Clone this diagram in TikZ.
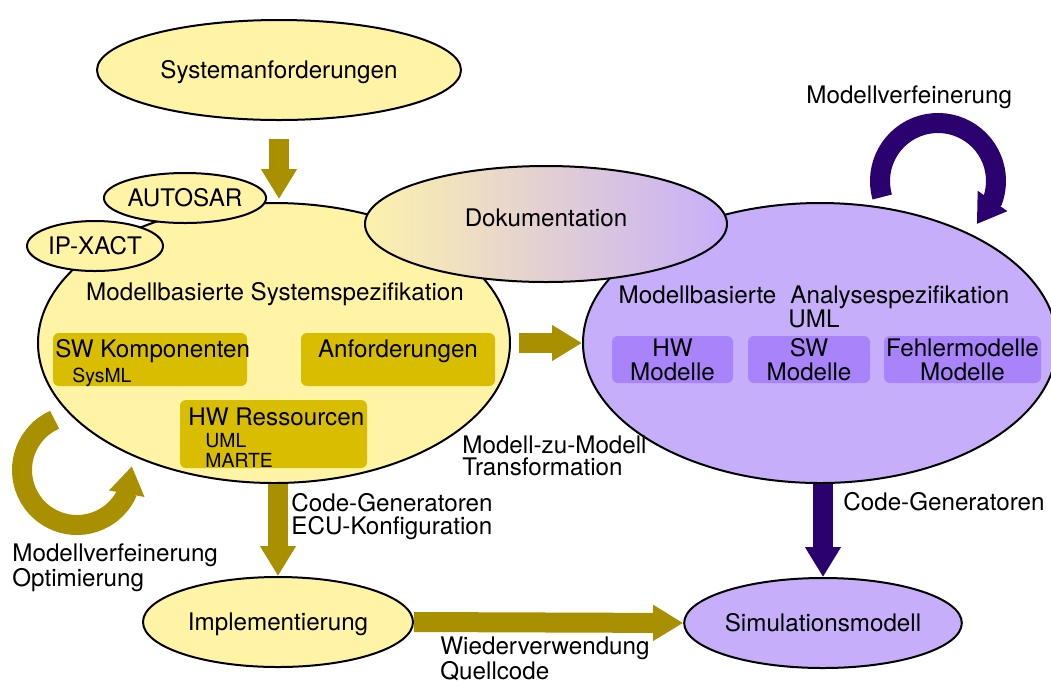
\documentclass[tikz,border=0pt]{standalone}
\usepackage{fontspec}
\setmainfont{TeX Gyre Heros}
\usetikzlibrary{shapes.geometric,arrows.meta,bending,calc}

\definecolor{paleyellow}{HTML}{FFF3A6}
\definecolor{goldbox}{HTML}{D9BD00}
\definecolor{arrowolive}{HTML}{A89000}
\definecolor{palelav}{HTML}{C7AEFA}
\definecolor{lavbox}{HTML}{A983F9}
\definecolor{darkviolet}{HTML}{2B006F}
\definecolor{docmid}{HTML}{E3CDCC}
\definecolor{docleft}{HTML}{FDF1AC}

\tikzset{
  ell/.style={ellipse, draw=black, line width=1pt, inner sep=0pt,
              text height=8.5pt, text depth=0pt},
  sysell/.style={ell, fill=paleyellow},
  anaell/.style={ell, fill=palelav},
  gbox/.style={fill=goldbox, rounded corners=3pt, inner sep=0pt},
  pbox/.style={fill=lavbox, rounded corners=3pt, inner sep=0pt, align=center},
  txt/.style={inner sep=0pt},
  small/.style={inner sep=0pt, font=\fontsize{9.7}{10}\selectfont},
  label/.style={inner sep=0pt, align=left, font=\fontsize{12.1}{11.2}\selectfont},
  fatolive/.style={draw=arrowolive, line width=10pt,
                   -{Triangle[length=15pt, width=17pt]}},
  fatviolet/.style={draw=darkviolet, line width=10pt,
                    -{Triangle[length=15pt, width=17pt]}},
  loopolive/.style={draw=arrowolive, line width=10pt,
                    -{Triangle[length=14pt, width=17pt]}},
  loopviolet/.style={draw=darkviolet, line width=10pt,
                     -{Triangle[length=14pt, width=17pt]}},
}

\begin{document}
\begin{tikzpicture}[x=0.5pt, y=-0.5pt, font=\fontsize{12.1}{12}\selectfont]
\clip (0,0) rectangle (1051,682);

% main ellipses
\node[sysell, minimum width=182pt, minimum height=50pt] (sysreq) at (279,70) {Systemanforderungen};
\node[sysell, minimum width=236pt, minimum height=140pt] (spec) at (274,343) {};
\node[anaell, minimum width=237pt, minimum height=140pt] (ana) at (820,343) {};
\node[ell, minimum width=181pt, minimum height=58pt, text depth=6pt,
      left color=docleft, middle color=docmid, right color=palelav] (doc) at (546,224) {Dokumentation};
\node[sysell, minimum width=68pt, minimum height=25pt] (autosar) at (185,198) {AUTOSAR};
\node[sysell, minimum width=68pt, minimum height=25pt] (ipxact) at (95,246) {IP-XACT};

% contents of the system specification
\node[txt, anchor=base] (spectitle) at (275,300.5) {Modellbasierte Systemspezifikation};
\node[gbox, minimum width=97pt, minimum height=26.5pt] (swk) at (150,359.5) {};
\node[txt, anchor=base west] (swktxt) at (55,357) {SW Komponenten};
\node[small, anchor=base west] (sysml) at (72,382) {SysML};
\node[gbox, minimum width=97pt, minimum height=26.5pt] (anf) at (398,359.5) {};
\node[txt, anchor=base] (anftxt) at (398,357) {Anforderungen};
\node[gbox, minimum width=93.5pt, minimum height=34pt] (hwr) at (273.5,434) {};
\node[txt, anchor=base west] (hwrtxt) at (188,425) {HW Ressourcen};
\node[small, anchor=north west, align=left] (umlmarte) at (205,433) {UML\\MARTE};

% contents of the analysis specification
\node[txt, anchor=north, align=center] (anatitle) at (814,285)
  {Modellbasierte\hspace{7pt}Analysespezifikation\\UML};
\node[pbox, minimum width=60.5pt, minimum height=23.5pt] (hwm) at (672.5,359.5) {HW\\Modelle};
\node[pbox, minimum width=61pt, minimum height=23.5pt] (swm) at (809,359.5) {SW\\Modelle};
\node[pbox, minimum width=78.5pt, minimum height=23.5pt] (fem) at (962.5,359.5) {Fehlermodelle\\Modelle};

% lower ellipses
\node[sysell, minimum width=135pt, minimum height=45pt] (impl) at (278,622) {Implementierung};
\node[anaell, minimum width=136pt, minimum height=45pt] (sim) at (823,623) {Simulationsmodell};

% connectors
\draw[fatolive, shorten <=9pt, shorten >=1.5pt] (sysreq.south) -- (sysreq.south |- spec.north);
\draw[fatolive, shorten <=4pt] (spec.east) -- (ana.west);
\draw[fatolive] (impl.north |- spec.south) -- (impl.north);
\draw[fatolive] (impl.east) -- (sim.west);
\draw[fatviolet] (sim.north |- ana.south) -- (sim.north);

% refinement loops
\coordinate (loopL) at (77,470);
\draw[loopolive] ($(loopL)+(246:55)$) arc[start angle=246, end angle=-4, radius=55];
\coordinate (loopR) at (938,181);
\draw[loopviolet] ($(loopR)+(164:58)$) arc[start angle=164, end angle=408, radius=58];

% connector labels
\node[label, anchor=north west] (m2m) at (462,435) {Modell-zu-Modell\\Transformation};
\node[label, anchor=north west] (codegenL) at (291,493.5) {Code-Generatoren\\ECU-Konfiguration};
\node[txt, anchor=base west] (codegenR) at (843,510.5) {Code-Generatoren};
\node[label, anchor=north west] (refineL) at (12,543) {Modellverfeinerung\\Optimierung};
\node[txt, anchor=base west] (refineR) at (806,103) {Modellverfeinerung};
\node[label, anchor=north west] (reuse) at (440,636) {Wiederverwendung\\Quellcode};
\end{tikzpicture}
\end{document}
